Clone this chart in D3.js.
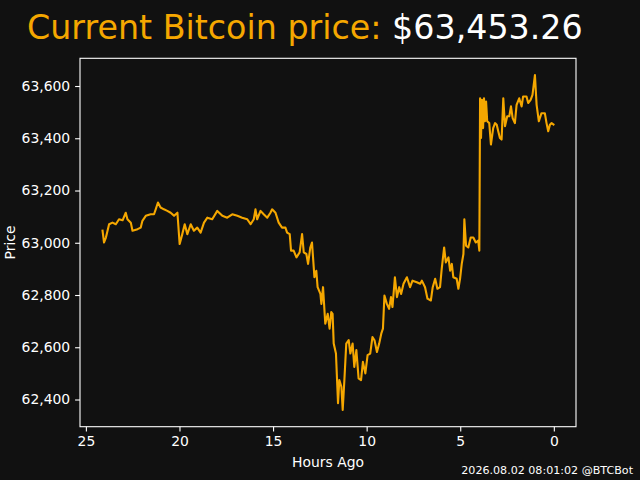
<!DOCTYPE html>
<html><head><meta charset="utf-8">
<script src="https://cdn.jsdelivr.net/npm/d3@7"></script>
<style>html,body{margin:0;padding:0;background:#111111;}svg{display:block;}</style>
</head><body>
<svg id="c" width="640" height="480"></svg>
<script>
const hoursAgo = [24.11,24.03,23.93,23.76,23.58,23.40,23.23,23.04,22.87,22.78,22.60,22.51,22.24,22.07,21.98,21.80,21.54,21.36,21.27,21.15,21.01,20.83,20.65,20.47,20.29,20.11,19.99,19.85,19.72,19.58,19.40,19.23,19.05,18.87,18.69,18.51,18.25,17.98,17.71,17.45,17.18,16.91,16.65,16.38,16.20,16.03,15.94,15.85,15.67,15.50,15.31,15.14,
15.05,14.87,14.70,14.52,14.34,14.25,14.11,14.04,13.90,13.75,13.58,13.45,13.36,13.22,13.13,13.01,12.92,12.79,12.69,12.62,12.47,12.42,12.33,12.21,12.08,11.98,11.89,11.82,11.76,11.64,11.53,11.46,11.35,11.28,11.19,11.09,10.96,10.87,10.75,10.66,10.55,10.43,10.30,10.20,10.07,9.95,9.81,9.69,9.58,9.45,9.33,9.22,9.13,9.05,8.92,8.80,8.70,8.62,8.49,8.38,8.26,8.16,8.03,7.85,7.68,7.55,7.32,7.14,7.05,6.88,6.75,6.57,6.47,6.34,6.22,6.08,5.99,5.86,5.77,5.63,5.54,5.45,5.37,5.19,5.10,5.01,4.92,4.83,4.78,4.69,4.57,4.44,4.30,4.17,4.04,3.98,
3.94,3.89,3.84,3.78,3.73,3.68,3.62,3.56,3.45,3.36,3.24,3.14,3.05,2.97,2.88,2.79,2.70,2.61,2.49,2.38,2.29,2.20,2.08,1.99,1.85,1.72,1.64,1.46,1.37,1.24,1.14,1.01,0.92,0.80,0.66,0.48,0.39,0.30,0.21,0.12,0.02];
const prices = [63046,63001,63020,63071,63077,63071,63090,63086,63115,63090,63077,63046,63052,63058,63084,63103,63109,63109,63128,63154,63135,63128,63122,63115,63103,63115,62995,63033,63071,63033,63071,63046,63058,63039,63077,63096,63090,63122,63103,63096,63109,63103,63096,63090,63071,63090,63128,63090,63122,63109,63096,63115,
63128,63115,63077,63058,63058,63039,63033,62970,62970,62944,62963,63033,62963,62957,62919,62982,63001,62868,62893,62830,62804,62766,62830,62690,62728,62671,62735,62728,62614,62576,62386,62474,62449,62360,62474,62614,62627,62576,62614,62525,62589,62481,62474,62544,62500,62570,62576,62639,62627,62582,62614,62652,62671,62798,62766,62747,62792,62754,62868,62792,62830,62804,62843,62868,62830,62855,62849,62843,62855,62830,62786,62779,62830,62862,62824,62830,62900,62982,62925,62944,62893,62919,62868,62862,62824,62862,62919,62957,63090,62989,62982,63020,63020,63001,63008,62970,
63553,63401,63547,63439,63553,63465,63541,63465,63458,63376,63439,63458,63452,63427,63401,63395,63553,63446,63484,63484,63522,63477,63458,63528,63553,63522,63560,63560,63535,63547,63566,63642,63528,63465,63496,63496,63458,63427,63452,63458,63453];
const xTicks = [25,20,15,10,5,0];
const yTicks = [62400,62600,62800,63000,63200,63400,63600];
const titleLabel = "Current Bitcoin price: ";
const titleValue = "$63,453.26";
const footer = "2026.08.02 08:01:02 @BTCBot";

const data = hoursAgo.map((h,i)=>({h, p: prices[i]}));
const W=640,H=480, L=80, R=576, T=58.3, B=426.7;
const FONT = "'DejaVu Sans', sans-serif";
const ORANGE = "#f5a700";
const svg = d3.select("#c");
svg.append("rect").attr("width",W).attr("height",H).attr("fill","#111111");

const hExt = d3.extent(hoursAgo), pExt = d3.extent(prices);
const hPad = (hExt[1]-hExt[0])*0.05, pPad = (pExt[1]-pExt[0])*0.05;
const x = d3.scaleLinear().domain([hExt[1]+hPad, hExt[0]-hPad]).range([L,R]);
const y = d3.scaleLinear().domain([pExt[0]-pPad, pExt[1]+pPad]).range([B,T]);

const fmt = d3.format(",");
const xAxis = svg.append("g").attr("transform",`translate(0,${B})`)
  .call(d3.axisBottom(x).tickValues(xTicks).tickSize(4.9).tickPadding(4.9).tickFormat(d3.format("d")));
const yAxis = svg.append("g").attr("transform",`translate(${L},0)`)
  .call(d3.axisLeft(y).tickValues(yTicks).tickSize(4.9).tickPadding(4.9).tickFormat(fmt));
[xAxis,yAxis].forEach(g=>{
  g.select(".domain").remove();
  g.selectAll(".tick line").attr("stroke","#ffffff").attr("stroke-width",1.1);
  g.selectAll(".tick text").attr("fill","#ffffff").style("font-family",FONT).style("font-size","13.9px");
});

svg.append("path").datum(data)
  .attr("fill","none").attr("stroke",ORANGE).attr("stroke-width",2.1)
  .attr("stroke-linejoin","round").attr("stroke-linecap","square")
  .attr("d", d3.line().x(d=>x(d.h)).y(d=>y(d.p)));

svg.append("rect").attr("x",L).attr("y",T).attr("width",R-L).attr("height",B-T)
  .attr("fill","none").attr("stroke","#ffffff").attr("stroke-width",1.1);

svg.append("text").attr("x",(L+R)/2).attr("y",467).attr("text-anchor","middle")
  .attr("fill","#ffffff").style("font-family",FONT).style("font-size","13.9px").text("Hours Ago");
svg.append("text").attr("transform",`translate(15,${(T+B)/2}) rotate(-90)`).attr("text-anchor","middle")
  .attr("fill","#ffffff").style("font-family",FONT).style("font-size","13.9px").text("Price");

const t = svg.append("text").attr("x",27).attr("y",39).style("font-family",FONT).style("font-size","33.3px");
t.append("tspan").attr("fill",ORANGE).text(titleLabel);
t.append("tspan").attr("fill","#ffffff").text(titleValue);

svg.append("text").attr("x",633).attr("y",474).attr("text-anchor","end")
  .attr("fill","#ffffff").style("font-family",FONT).style("font-size","11.1px").text(footer);
</script>
</body></html>
